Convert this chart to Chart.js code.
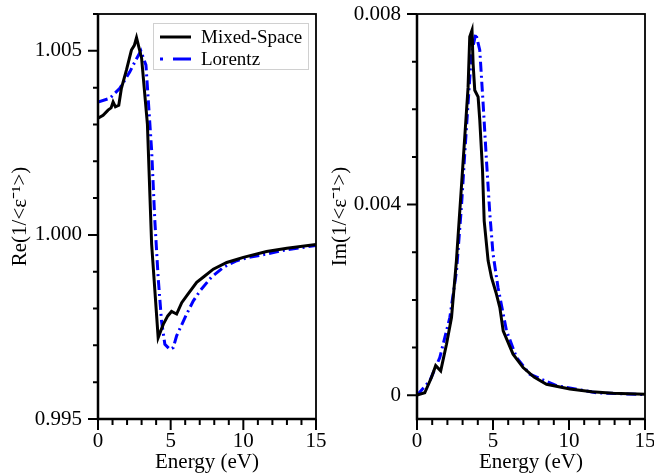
<!DOCTYPE html>
<html>
<head>
<meta charset="utf-8">
<script src="https://cdn.jsdelivr.net/npm/chart.js@4.4.1/dist/chart.umd.min.js"></script>
<style>
  html, body { margin: 0; padding: 0; background: #fff; }
  .panel { position: absolute; top: 0; width: 327px; height: 474px; }
  #left { left: 0; }
  #right { left: 327px; }
</style>
</head>
<body>
<div class="panel" id="left"><canvas id="reChart" width="327" height="474"></canvas></div>
<div class="panel" id="right"><canvas id="imChart" width="327" height="474"></canvas></div>
<script>
// energy axis (eV)
const xMajor = [0, 5, 10, 15];
const xMinor = [0, 1, 2, 3, 4, 5, 6, 7, 8, 9, 10, 11, 12, 13, 14, 15];

// Re(1/<eps^-1>)
const reMixedE = [0, 0.35, 0.69, 0.9, 1.04, 1.2, 1.43, 1.61, 1.96, 2.3, 2.5, 2.65, 3.0, 3.4, 3.69, 4.14, 4.49, 4.8, 5.06, 5.41, 5.76, 6.2, 6.79, 7.3, 7.93, 8.86, 10.0, 11.6, 13.0, 15];
const reMixedV = [1.00317, 1.00325, 1.00339, 1.00345, 1.00361, 1.00348, 1.00352, 1.00398, 1.00448, 1.00502, 1.00515, 1.00536, 1.00480, 1.00300, 0.99975, 0.99721, 0.99757, 0.99780, 0.99792, 0.99785, 0.99816, 0.99840, 0.99871, 0.99887, 0.99907, 0.99925, 0.99939, 0.99955, 0.99964, 0.99974];
const reLorentzE = [0, 0.81, 1.5, 2.19, 2.6, 2.95, 3.3, 3.69, 3.91, 4.14, 4.37, 4.6, 4.95, 5.18, 5.41, 6.1, 6.56, 7.02, 7.8, 8.63, 9.55, 10.5, 11.6, 13.0, 15];
const reLorentzV = [1.00361, 1.00371, 1.00398, 1.00443, 1.00475, 1.00500, 1.00461, 1.00230, 1.00039, 0.99884, 0.99766, 0.99703, 0.99689, 0.99694, 0.99726, 0.99785, 0.99821, 0.99848, 0.99885, 0.99912, 0.99930, 0.99940, 0.99948, 0.99960, 0.99971];
const reYMajor = [0.995, 1.000, 1.005];
const reYLabels = ["0.995", "1.000", "1.005"];
const reYMinor = [0.995, 0.996, 0.997, 0.998, 0.999, 1.000, 1.001, 1.002, 1.003, 1.004, 1.005, 1.006];

// Im(1/<eps^-1>)
const imMixedE = [0, 0.51, 0.95, 1.23, 1.56, 1.94, 2.27, 2.59, 2.92, 3.14, 3.36, 3.47, 3.62, 3.69, 3.8, 4.02, 4.13, 4.31, 4.42, 4.68, 4.9, 5.2, 5.45, 5.67, 6.32, 6.98, 7.7, 8.52, 10.06, 11.5, 12.9, 15];
const imMixedV = [0, 0.00005, 0.00037, 0.00062, 0.00051, 0.00107, 0.00163, 0.00281, 0.00436, 0.00541, 0.00646, 0.00752, 0.00766, 0.00696, 0.0064, 0.00626, 0.00577, 0.00472, 0.00366, 0.00282, 0.00247, 0.00215, 0.00184, 0.00135, 0.00086, 0.00058, 0.00038, 0.00023, 0.00013, 0.00007, 0.00004, 0.00002];
const imLorentzE = [0, 0.84, 1.5, 2.16, 2.6, 2.92, 3.14, 3.36, 3.58, 3.87, 4.13, 4.35, 4.57, 4.79, 5.0, 5.33, 5.89, 6.55, 7.42, 9.18, 11.8, 15];
const imLorentzV = [0, 0.0003, 0.00079, 0.00163, 0.00261, 0.00394, 0.00506, 0.00612, 0.00717, 0.00759, 0.00724, 0.00612, 0.00493, 0.00381, 0.00297, 0.00226, 0.00135, 0.00079, 0.00044, 0.0002, 0.00005, 0.00001];
const imYMajor = [0, 0.004, 0.008];
const imYLabels = ["0", "0.004", "0.008"];
const imYMinor = [0, 0.001, 0.002, 0.003, 0.004, 0.005, 0.006, 0.007, 0.008];

const seriesNames = ["Mixed-Space", "Lorentz"];

const serif = "'Liberation Serif', 'Times New Roman', serif";
Chart.defaults.font.family = serif;
Chart.defaults.font.size = 21;
Chart.defaults.color = "#000";

const lorentzDash = [10, 4, 2, 4];

function pts(xs, ys) {
    return xs.map((x, i) => ({ x: x, y: ys[i] }));
}

// frame, tick marks and the boxed legend
function makeDecor(yMajor, yMinor, withLegend) {
    return {
        id: "decor",
        afterDraw(chart) {
            const { ctx, chartArea: a } = chart;
            const xs = chart.scales.x, ys = chart.scales.y;
            ctx.save();
            ctx.strokeStyle = "#000";
            ctx.lineWidth = 2;
            ctx.beginPath();
            xMinor.forEach(v => {
                const px = xs.getPixelForValue(v);
                const len = xMajor.includes(v) ? 11 : 6;
                ctx.moveTo(px, a.bottom);
                ctx.lineTo(px, a.bottom + len);
            });
            yMinor.forEach(v => {
                const py = ys.getPixelForValue(v);
                const len = yMajor.includes(v) ? 10 : 5;
                ctx.moveTo(a.left, py);
                ctx.lineTo(a.left - len, py);
            });
            ctx.stroke();

            ctx.lineWidth = 1.8;
            ctx.strokeRect(a.left, a.top, a.right - a.left, a.bottom - a.top);
            ctx.lineWidth = 2.5;
            ctx.beginPath();
            ctx.moveTo(a.left, a.top);
            ctx.lineTo(a.left, a.bottom);
            ctx.lineTo(a.right, a.bottom);
            ctx.stroke();

            if (withLegend) {
                ctx.fillStyle = "#fff";
                ctx.fillRect(153.5, 23.5, 155, 46);
                ctx.strokeStyle = "#d0d0d0";
                ctx.lineWidth = 1;
                ctx.strokeRect(153.5, 23.5, 155, 46);

                ctx.lineWidth = 3;
                ctx.strokeStyle = "#000";
                ctx.beginPath();
                ctx.moveTo(160, 37);
                ctx.lineTo(191, 37);
                ctx.stroke();

                ctx.strokeStyle = "#0000ff";
                ctx.setLineDash([3, 10, 18, 40]);
                ctx.beginPath();
                ctx.moveTo(160, 59);
                ctx.lineTo(191, 59);
                ctx.stroke();
                ctx.setLineDash([]);

                ctx.fillStyle = "#000";
                ctx.font = "19px " + serif;
                ctx.textBaseline = "alphabetic";
                ctx.fillText(seriesNames[0], 201, 43);
                ctx.fillText(seriesNames[1], 201, 65);
            }
            ctx.restore();
        }
    };
}

function makeChart(id, cfg) {
    return new Chart(document.getElementById(id), {
        type: "line",
        data: {
            datasets: [
                {
                    label: seriesNames[0],
                    data: pts(cfg.mixedE, cfg.mixedV),
                    borderColor: "#000",
                    borderWidth: 3,
                    pointRadius: 0,
                    tension: 0,
                    fill: false,
                },
                {
                    label: seriesNames[1],
                    data: pts(cfg.lorentzE, cfg.lorentzV),
                    borderColor: "#0000ff",
                    borderWidth: 3,
                    borderDash: lorentzDash,
                    pointRadius: 0,
                    tension: 0,
                    fill: false,
                },
            ],
        },
        options: {
            responsive: false,
            animation: false,
            devicePixelRatio: 1,
            layout: { padding: { top: 14, right: cfg.padRight, left: 0, bottom: 0 } },
            scales: {
                x: {
                    type: "linear",
                    min: 0,
                    max: 15,
                    grid: { display: false, drawTicks: false },
                    border: { display: false },
                    ticks: { padding: 10, maxRotation: 0, autoSkip: false, callback: v => String(v) },
                    title: { display: true, text: "Energy (eV)", font: { lineHeight: 1.05 }, padding: { top: 0, bottom: 0 } },
                    afterBuildTicks: s => { s.ticks = xMajor.map(v => ({ value: v })); },
                    afterFit: s => { s.height = 55; s.paddingLeft = 0; s.paddingRight = 0; },
                },
                y: {
                    type: "linear",
                    min: cfg.yMin,
                    max: cfg.yMax,
                    grid: { display: false, drawTicks: false },
                    border: { display: false },
                    ticks: { padding: 16, autoSkip: false, callback: (v, i) => cfg.yLabels[i] },
                    title: { display: true, text: cfg.yTitle, font: { lineHeight: 1.05 }, padding: { top: cfg.titlePad, bottom: 0 } },
                    afterBuildTicks: s => { s.ticks = cfg.yMajor.map(v => ({ value: v })); },
                    afterFit: s => { s.width = cfg.yWidth; s.paddingTop = 0; s.paddingBottom = 0; },
                },
            },
            plugins: {
                legend: { display: false },
                tooltip: { enabled: false },
            },
        },
        plugins: [makeDecor(cfg.yMajor, cfg.yMinor, cfg.legend)],
    });
}

makeChart("reChart", {
    mixedE: reMixedE, mixedV: reMixedV,
    lorentzE: reLorentzE, lorentzV: reLorentzV,
    yMin: 0.995, yMax: 1.006,
    yMajor: reYMajor, yLabels: reYLabels, yMinor: reYMinor,
    yTitle: "Re(1/<ε⁻¹>)",
    titlePad: 9, yWidth: 98, padRight: 11, legend: true,
});

makeChart("imChart", {
    mixedE: imMixedE, mixedV: imMixedV,
    lorentzE: imLorentzE, lorentzV: imLorentzV,
    yMin: -0.0005, yMax: 0.008,
    yMajor: imYMajor, yLabels: imYLabels, yMinor: imYMinor,
    yTitle: "Im(1/<ε⁻¹>)",
    titlePad: 2, yWidth: 90, padRight: 9, legend: false,
});
</script>
</body>
</html>
